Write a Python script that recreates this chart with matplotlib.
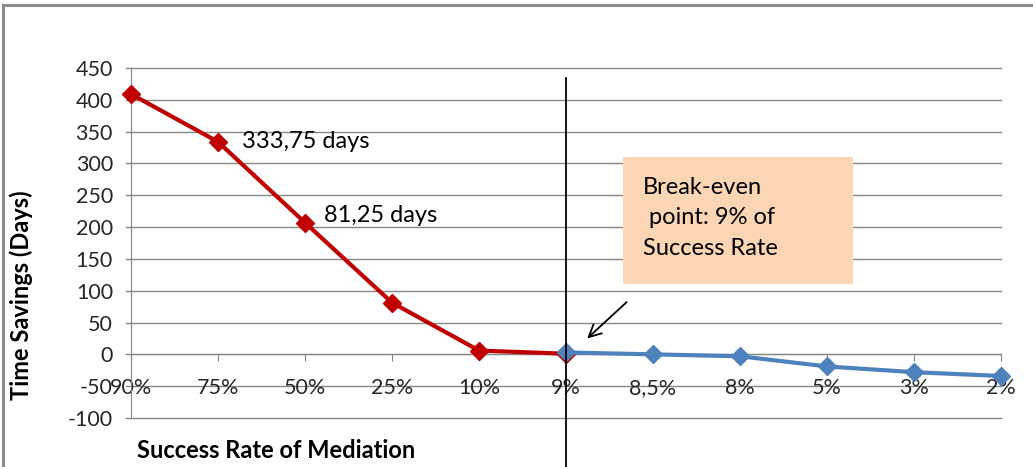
import numpy as np
import matplotlib.pyplot as plt
from matplotlib.lines import Line2D
from matplotlib.patches import Rectangle

plt.rcParams['font.family'] = ['Lato', 'DejaVu Sans']
plt.rcParams['axes.unicode_minus'] = False

# data
categories = ["90%", "75%", "50%", "25%", "10%", "9%", "8,5%", "8%", "5%", "3%", "2%"]
red_values = [409, 334, 207, 81.25, 6, 1]          # 90% .. 9%
blue_values = [3, 0, -3, -19, -28, -34]            # 9% .. 2%
break_even = "9%"
yticks = [-100, -50, 0, 50, 100, 150, 200, 250, 300, 350, 400, 450]

red = '#C00000'
blue = '#4F81BD'
grid_c = '#868686'
text_c = '#262626'

def main():
    fig = plt.figure(figsize=(10.33, 4.67), dpi=100)
    W, H = 1033, 467
    ax = fig.add_axes([131 / W, (H - 418) / H, (1001 - 131) / W, (418 - 68) / H])

    x = np.arange(len(categories))
    be = categories.index(break_even)
    xr = x[:be + 1]
    xb = x[be:]

    ax.plot(xr, red_values, color=red, lw=3, marker='D', ms=9, clip_on=False, zorder=4)
    ax.plot(xb, blue_values, color=blue, lw=3, marker='D', ms=9, clip_on=False, zorder=4)

    ax.set_xlim(0, len(categories) - 1)
    ax.set_ylim(-100, 450)
    ax.set_yticks(yticks)
    ax.set_xticks(x)
    ax.set_xticklabels(categories)

    # gridlines extending slightly left like excel tick marks
    for v in yticks:
        ax.plot([-0.06, len(categories) - 1], [v, v], color=grid_c, lw=1, clip_on=False, zorder=1)

    for s in ['top', 'right']:
        ax.spines[s].set_visible(False)
    ax.spines['left'].set_color(grid_c)
    ax.spines['bottom'].set_color(grid_c)
    ax.spines['bottom'].set_position(('data', 0))
    ax.spines['bottom'].set_zorder(2)
    ax.tick_params(axis='y', length=0, pad=13, labelsize=15.5, labelcolor=text_c)
    ax.tick_params(axis='x', length=5, direction='out', color=grid_c, pad=12,
                   labelsize=15.5, labelcolor=text_c)

    # break-even vertical line
    ax.plot([be, be], [434, -180], color='black', lw=1.3, clip_on=False, zorder=5)

    # value labels
    ax.text(1.28, 333.75, "333,75 days", fontsize=17, color='black', va='center')
    ax.text(2.22, 218, "81,25 days", fontsize=17, color='black', va='center')

    # callout box
    ax.add_patch(Rectangle((5.655, 110), 2.64, 200, facecolor='#FCD5B4', edgecolor='none', zorder=3))
    ax.text(5.88, 279, "Break-even\n point: 9% of\nSuccess Rate", fontsize=17,
            color='black', va='top', linespacing=1.55, zorder=4)
    ax.annotate("", xy=(be + 0.22, 22), xytext=(be + 0.72, 85),
                arrowprops=dict(arrowstyle='->', color='black', lw=1.3,
                                mutation_scale=22), zorder=6)

    ax.set_ylabel("Time Savings (Days)", fontsize=17, fontweight='bold', color='black')
    ax.yaxis.set_label_coords(-0.113, 0.35)
    fig.text(137 / W, 1 - 450 / H, "Success Rate of Mediation", fontsize=17,
             fontweight='bold', color='black', va='center')

    # outer chart frame
    fig.add_artist(Line2D([3 / W, 1], [1 - 5 / H, 1 - 5 / H], color='#8c8c8c', lw=2.2))
    fig.add_artist(Line2D([3 / W, 3 / W], [0, 1 - 5 / H], color='#8c8c8c', lw=2.2))

    fig.savefig("out.png", dpi=100)

if __name__ == "__main__":
    main()
